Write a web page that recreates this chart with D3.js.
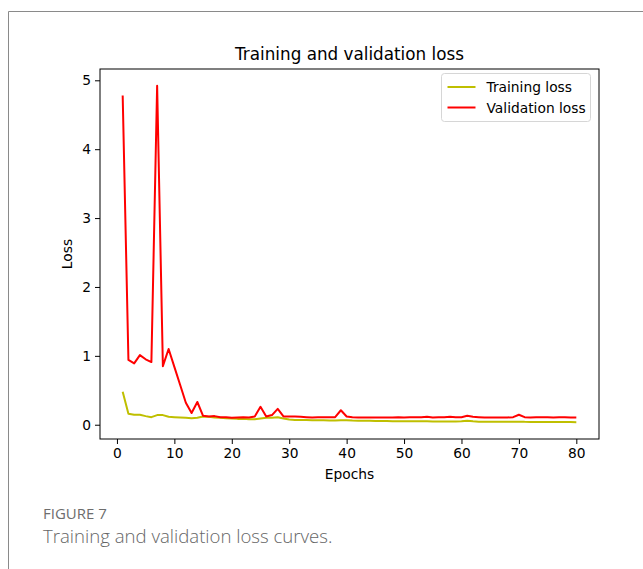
<!DOCTYPE html>
<html>
<head>
<meta charset="utf-8">
<script src="https://cdn.jsdelivr.net/npm/d3@7"></script>
<style>
  html, body { margin: 0; padding: 0; background: #fff; }
  #chart { width: 643px; height: 569px; }
  text { font-family: "DejaVu Sans", sans-serif; }
</style>
</head>
<body>
<div id="chart"></div>
<script>
// epochs 1..80
const epochs = d3.range(1, 81);

const trainingLoss = [
  0.48, 0.16, 0.145, 0.145, 0.125, 0.11, 0.14, 0.14, 0.115, 0.11,
  0.105, 0.10, 0.095, 0.10, 0.12, 0.115, 0.105, 0.10, 0.095, 0.09,
  0.085, 0.085, 0.08, 0.08, 0.09, 0.10, 0.10, 0.11, 0.09, 0.075,
  0.07, 0.07, 0.068, 0.066, 0.065, 0.064, 0.063, 0.062, 0.065, 0.065,
  0.06, 0.058, 0.057, 0.056, 0.055, 0.054, 0.053, 0.052, 0.052, 0.051,
  0.05, 0.05, 0.049, 0.049, 0.048, 0.048, 0.047, 0.047, 0.046, 0.05,
  0.058, 0.05, 0.045, 0.044, 0.044, 0.043, 0.043, 0.042, 0.042, 0.045,
  0.042, 0.041, 0.041, 0.04, 0.04, 0.039, 0.039, 0.038, 0.038, 0.037
];

const validationLoss = [
  4.78, 0.94, 0.89, 1.01, 0.95, 0.91, 4.92, 0.85, 1.10, 0.84,
  0.58, 0.32, 0.17, 0.33, 0.13, 0.12, 0.125, 0.11, 0.11, 0.10,
  0.105, 0.11, 0.105, 0.12, 0.26, 0.12, 0.14, 0.23, 0.12, 0.12,
  0.12, 0.115, 0.11, 0.105, 0.11, 0.11, 0.11, 0.11, 0.21, 0.12,
  0.11, 0.105, 0.105, 0.105, 0.105, 0.105, 0.105, 0.105, 0.11, 0.105,
  0.11, 0.11, 0.11, 0.115, 0.105, 0.11, 0.11, 0.115, 0.11, 0.11,
  0.13, 0.115, 0.11, 0.105, 0.105, 0.105, 0.105, 0.105, 0.11, 0.145,
  0.11, 0.105, 0.11, 0.11, 0.11, 0.105, 0.11, 0.11, 0.105, 0.105
];

const xTicks = [0, 10, 20, 30, 40, 50, 60, 70, 80];
const yTicks = [0, 1, 2, 3, 4, 5];
const seriesNames = ["Training loss", "Validation loss"];

const width = 643, height = 569;
const plot = { left: 100, right: 599, top: 69, bottom: 439 };

const svg = d3.select("#chart").append("svg")
  .attr("width", width)
  .attr("height", height);

// card border (left + top)
svg.append("path")
  .attr("d", `M8.5,${height} L8.5,11.5 L${width},11.5`)
  .attr("fill", "none")
  .attr("stroke", "#8a8a8a")
  .attr("stroke-width", 1);

// matplotlib-like 5% margins
const xExt = d3.extent(epochs);
const xPad = (xExt[1] - xExt[0]) * 0.05;
const allY = trainingLoss.concat(validationLoss);
const yExt = d3.extent(allY);
const yPad = (yExt[1] - yExt[0]) * 0.05;

const x = d3.scaleLinear()
  .domain([xExt[0] - xPad, xExt[1] + xPad])
  .range([plot.left, plot.right]);

const y = d3.scaleLinear()
  .domain([yExt[0] - yPad, yExt[1] + yPad])
  .range([plot.bottom, plot.top]);

// axes
const xAxis = svg.append("g")
  .attr("transform", `translate(0,${plot.bottom})`)
  .call(d3.axisBottom(x).tickValues(xTicks).tickSize(5).tickPadding(4).tickFormat(d3.format("d")));

const yAxis = svg.append("g")
  .attr("transform", `translate(${plot.left},0)`)
  .call(d3.axisLeft(y).tickValues(yTicks).tickSize(5).tickPadding(4).tickFormat(d3.format("d")));

[xAxis, yAxis].forEach(g => {
  g.select(".domain").remove();
  g.selectAll(".tick line").attr("stroke", "#000").attr("stroke-width", 1);
  g.selectAll(".tick text")
    .attr("fill", "#000")
    .style("font-family", "DejaVu Sans, sans-serif")
    .style("font-size", "13.8px");
});

// lines
const line = d3.line()
  .x((d, i) => x(epochs[i]))
  .y(d => y(d));

svg.append("path")
  .datum(trainingLoss)
  .attr("fill", "none")
  .attr("stroke", "#bfbf00")
  .attr("stroke-width", 2)
  .attr("stroke-linejoin", "round")
  .attr("d", line);

svg.append("path")
  .datum(validationLoss)
  .attr("fill", "none")
  .attr("stroke", "#ff0000")
  .attr("stroke-width", 2)
  .attr("stroke-linejoin", "round")
  .attr("d", line);

// frame
svg.append("rect")
  .attr("x", plot.left)
  .attr("y", plot.top)
  .attr("width", plot.right - plot.left)
  .attr("height", plot.bottom - plot.top)
  .attr("fill", "none")
  .attr("stroke", "#000")
  .attr("stroke-width", 1);

// title & labels
svg.append("text")
  .attr("x", (plot.left + plot.right) / 2)
  .attr("y", 60)
  .attr("text-anchor", "middle")
  .style("font-size", "16.8px")
  .text("Training and validation loss");

svg.append("text")
  .attr("x", (plot.left + plot.right) / 2)
  .attr("y", 479)
  .attr("text-anchor", "middle")
  .style("font-size", "13.8px")
  .text("Epochs");

svg.append("text")
  .attr("transform", `translate(72,${(plot.top + plot.bottom) / 2}) rotate(-90)`)
  .attr("text-anchor", "middle")
  .style("font-size", "13.8px")
  .text("Loss");

// legend
const legend = svg.append("g").attr("transform", "translate(441.5,73.5)");
legend.append("rect")
  .attr("width", 149).attr("height", 48)
  .attr("rx", 3)
  .attr("fill", "#fff")
  .attr("stroke", "#d6d6d6");
const colors = ["#bfbf00", "#ff0000"];
seriesNames.forEach((name, i) => {
  const row = legend.append("g").attr("transform", `translate(0,${13.5 + i * 20.5})`);
  row.append("line")
    .attr("x1", 6).attr("x2", 34)
    .attr("stroke", colors[i]).attr("stroke-width", 2);
  row.append("text")
    .attr("x", 45).attr("y", 5)
    .style("font-size", "13.8px")
    .text(name);
});

// caption
svg.append("text")
  .attr("x", 43).attr("y", 519)
  .style("font-family", "Open Sans, sans-serif")
  .style("font-size", "15px")
  .attr("fill", "#6d6d6d")
  .text("FIGURE 7");

svg.append("text")
  .attr("x", 43).attr("y", 543)
  .style("font-family", "Open Sans, sans-serif")
  .style("font-size", "18.6px")
  .style("font-weight", 300)
  .attr("fill", "#666")
  .text("Training and validation loss curves.");
</script>
</body>
</html>
